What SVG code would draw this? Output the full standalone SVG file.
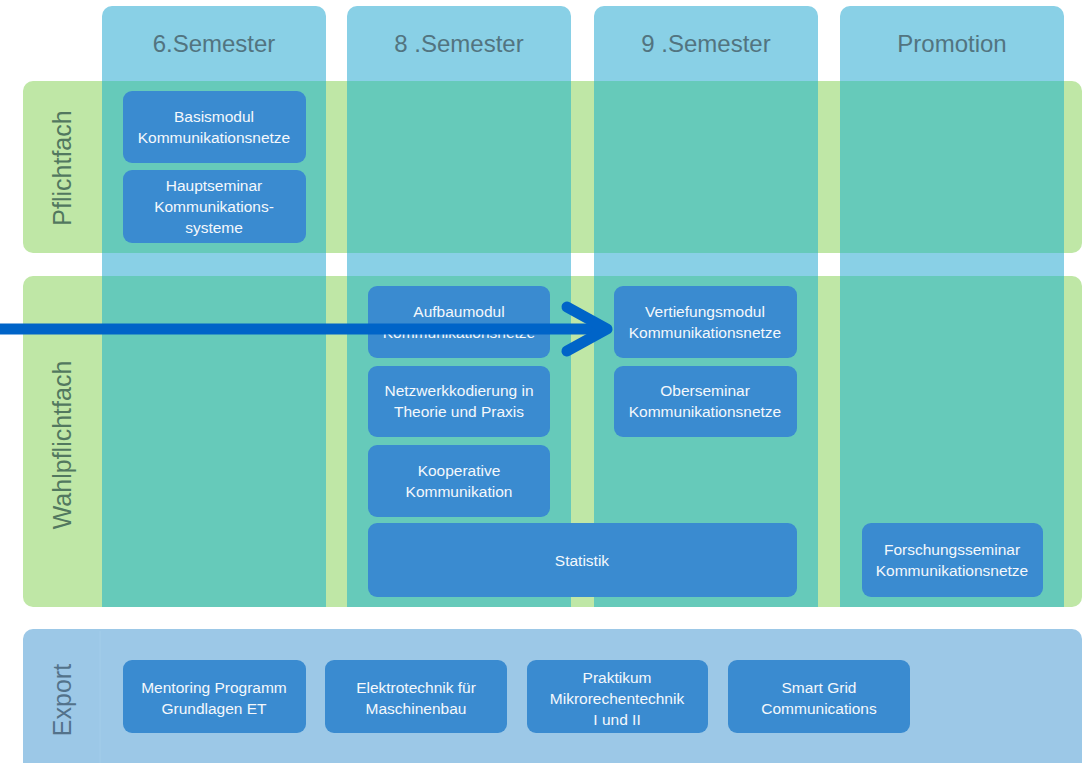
<svg xmlns="http://www.w3.org/2000/svg" width="1084" height="763" viewBox="0 0 1084 763">
<style>
.col{fill:#89D0E6}
.band{fill:#BFE7A6}
.ov{fill:#66CABA}
.exp{fill:#9CC8E7}
.mod{fill:#3A8BD0}
.hd{font-family:"Liberation Sans",Arial,sans-serif;font-size:24px;fill:#527480;text-anchor:middle}
.lb{font-family:"Liberation Sans",Arial,sans-serif;font-size:25px;fill:#52785F;text-anchor:middle}
.lbe{font-family:"Liberation Sans",Arial,sans-serif;font-size:25px;fill:#53728A;text-anchor:middle}
.t{font-family:"Liberation Sans",Arial,sans-serif;font-size:15.5px;fill:#F4F8FC;text-anchor:middle}
.arr{stroke:#0064C8;fill:none;stroke-width:11}
</style>
<rect width="1084" height="763" fill="#FFFFFF"/>
<g id="columns">
<rect class="col" x="102" y="6" width="224" height="601" rx="10"/>
<rect class="col" x="347" y="6" width="224" height="601" rx="10"/>
<rect class="col" x="594" y="6" width="224" height="601" rx="10"/>
<rect class="col" x="840" y="6" width="224" height="601" rx="10"/>
</g>
<g id="bands">
<rect class="band" x="23" y="81" width="1059" height="172" rx="10"/>
<rect class="band" x="23" y="276" width="1059" height="331" rx="10"/>
<rect class="ov" x="102" y="81" width="224" height="172"/>
<rect class="ov" x="347" y="81" width="224" height="172"/>
<rect class="ov" x="594" y="81" width="224" height="172"/>
<rect class="ov" x="840" y="81" width="224" height="172"/>
<rect class="ov" x="102" y="276" width="224" height="331"/>
<rect class="ov" x="347" y="276" width="224" height="331"/>
<rect class="ov" x="594" y="276" width="224" height="331"/>
<rect class="ov" x="840" y="276" width="224" height="331"/>
<rect class="exp" x="23" y="629" width="1059" height="150" rx="10"/>
<line x1="100" y1="631" x2="100" y2="763" stroke="#A3CDEA" stroke-width="1"/>
</g>
<g id="headers">
<text class="hd" x="214" y="52">6.Semester</text>
<text class="hd" x="459" y="52">8 .Semester</text>
<text class="hd" x="706" y="52">9 .Semester</text>
<text class="hd" x="952" y="52">Promotion</text>
</g>
<g id="row-labels">
<text class="lb" transform="translate(71,168) rotate(-90)">Pflichtfach</text>
<text class="lb" transform="translate(71,445) rotate(-90)">Wahlpflichtfach</text>
<text class="lbe" transform="translate(71,700) rotate(-90)">Export</text>
</g>
<g id="basismodul">
<rect class="mod" x="123" y="91" width="183" height="72" rx="9"/>
<text class="t" x="214" y="122">Basismodul</text>
<text class="t" x="214" y="143">Kommunikationsnetze</text>
</g>
<g id="hauptseminar">
<rect class="mod" x="123" y="170" width="183" height="73" rx="9"/>
<text class="t" x="214" y="191">Hauptseminar</text>
<text class="t" x="214" y="212">Kommunikations-</text>
<text class="t" x="214" y="233">systeme</text>
</g>
<g id="aufbaumodul">
<rect class="mod" x="368" y="286" width="182" height="72" rx="9"/>
<text class="t" x="459" y="317">Aufbaumodul</text>
<text class="t" x="459" y="338">Kommunikationsnetze</text>
</g>
<g id="netzwerkkodierung">
<rect class="mod" x="368" y="366" width="182" height="71" rx="9"/>
<text class="t" x="459" y="396">Netzwerkkodierung in</text>
<text class="t" x="459" y="417">Theorie und Praxis</text>
</g>
<g id="kooperative">
<rect class="mod" x="368" y="445" width="182" height="72" rx="9"/>
<text class="t" x="459" y="476">Kooperative</text>
<text class="t" x="459" y="497">Kommunikation</text>
</g>
<g id="statistik">
<rect class="mod" x="368" y="523" width="429" height="74" rx="9"/>
<text class="t" x="582" y="566">Statistik</text>
</g>
<g id="vertiefungsmodul">
<rect class="mod" x="614" y="286" width="183" height="72" rx="9"/>
<text class="t" x="705" y="317">Vertiefungsmodul</text>
<text class="t" x="705" y="338">Kommunikationsnetze</text>
</g>
<g id="oberseminar">
<rect class="mod" x="614" y="366" width="183" height="71" rx="9"/>
<text class="t" x="705" y="396">Oberseminar</text>
<text class="t" x="705" y="417">Kommunikationsnetze</text>
</g>
<g id="forschungsseminar">
<rect class="mod" x="862" y="523" width="181" height="74" rx="9"/>
<text class="t" x="952" y="555">Forschungsseminar</text>
<text class="t" x="952" y="576">Kommunikationsnetze</text>
</g>
<g id="mentoring">
<rect class="mod" x="123" y="660" width="183" height="73" rx="9"/>
<text class="t" x="214" y="693">Mentoring Programm</text>
<text class="t" x="214" y="714">Grundlagen ET</text>
</g>
<g id="elektrotechnik">
<rect class="mod" x="325" y="660" width="182" height="73" rx="9"/>
<text class="t" x="416" y="693">Elektrotechnik für</text>
<text class="t" x="416" y="714">Maschinenbau</text>
</g>
<g id="praktikum">
<rect class="mod" x="527" y="660" width="181" height="73" rx="9"/>
<text class="t" x="617" y="683">Praktikum</text>
<text class="t" x="617" y="704">Mikrorechentechnik</text>
<text class="t" x="617" y="725">I und II</text>
</g>
<g id="smartgrid">
<rect class="mod" x="728" y="660" width="182" height="73" rx="9"/>
<text class="t" x="819" y="693">Smart Grid</text>
<text class="t" x="819" y="714">Communications</text>
</g>
<g id="connectors">
<line class="arr" x1="0" y1="329" x2="604" y2="329"/>
<polyline class="arr" points="567,307 607,329 567,351" stroke-linecap="round" stroke-linejoin="round" stroke-width="12"/>
</g>
</svg>
